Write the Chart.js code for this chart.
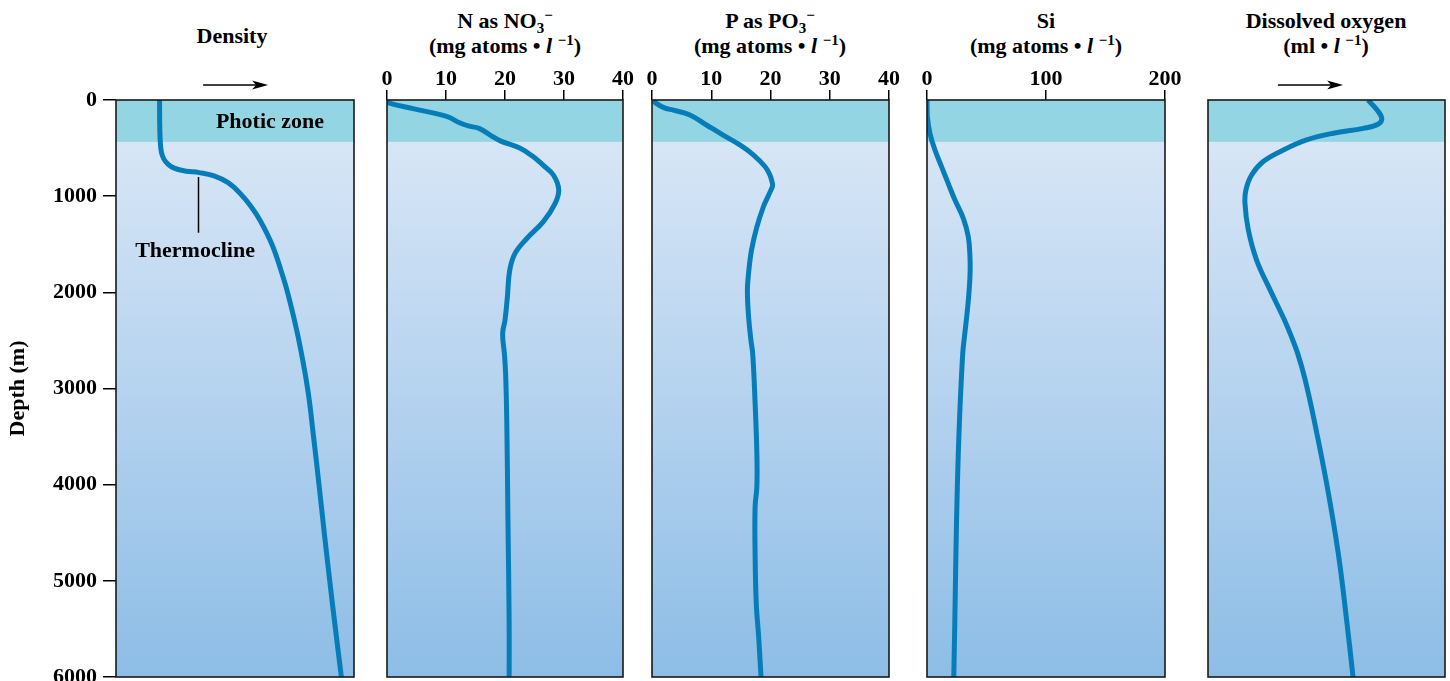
<!DOCTYPE html>
<html><head><meta charset="utf-8">
<script src="https://cdn.jsdelivr.net/npm/chart.js@4"></script>
<style>
html,body{margin:0;padding:0;background:#fff;}
body{width:1450px;height:681px;overflow:hidden;position:relative;font-family:"Liberation Serif","Times New Roman",serif;}
canvas{position:absolute;}
.t{position:absolute;text-align:center;font-weight:bold;font-size:22px;line-height:25px;color:#000;white-space:nowrap;transform:translateX(-50%);}
.t sub,.t sup{font-size:15px;line-height:0;position:relative;vertical-align:baseline;}
.t sub{top:5px;}
.t sup{top:-8px;}
</style></head><body>
<div class="t" style="left:232px;top:23px">Density</div>
<div class="t" style="left:505px;top:8px">N as NO<sub>3</sub><sup>−</sup><br>(mg atoms • <i>l</i> <sup>−1</sup>)</div>
<div class="t" style="left:770px;top:8px">P as PO<sub>3</sub><sup>−</sup><br>(mg atoms • <i>l</i> <sup>−1</sup>)</div>
<div class="t" style="left:1046px;top:8px">Si<br>(mg atoms • <i>l</i> <sup>−1</sup>)</div>
<div class="t" style="left:1326px;top:8px">Dissolved oxygen<br>(ml • <i>l</i> <sup>−1</sup>)</div>
<script>
// ---------- data ----------
const depthTicks = [0, 1000, 2000, 3000, 4000, 5000, 6000];
const nTicks = [0, 10, 20, 30, 40];
const pTicks = [0, 10, 20, 30, 40];
const siTicks = [0, 100, 200];
const photicDepth = 435;

const densityDepth = [0, 300, 500, 580, 640, 690, 720, 740, 755, 790, 860, 970, 1100, 1250, 1500, 1770, 2020, 2460, 3000, 3500, 4000, 4500, 5000, 5500, 6000];
const densityValue = [18.3, 18.4, 18.8, 19.5, 20.8, 23.0, 25.8, 29.5, 35, 41.2, 47.1, 52.1, 56.5, 60.5, 65.5, 69.3, 72.3, 76.5, 80.5, 83.0, 85.3, 87.5, 89.8, 92.2, 94.7];

const nitrateDepth = [0, 30, 90, 170, 240, 270, 295, 365, 425, 500, 590, 680, 780, 930, 1075, 1265, 1440, 1595, 1770, 2050, 2290, 2430, 2640, 2840, 3330, 4370, 5410, 6000];
const nitrateValue = [0, 0.3, 4.4, 10.1, 12.4, 13.8, 15.6, 17.5, 19.2, 22.5, 24.8, 26.5, 28.2, 29.1, 28.5, 26.5, 23.7, 21.7, 20.8, 20.4, 20.0, 19.6, 19.9, 20.1, 20.3, 20.5, 20.7, 20.7];

const phosphateDepth = [0, 30, 85, 105, 155, 260, 365, 470, 570, 694, 780, 850, 890, 940, 1000, 1110, 1320, 1560, 1800, 1980, 2250, 2500, 2640, 3150, 3680, 4020, 4230, 4720, 5240, 5580, 6000];
const phosphateValue = [0.3, 0.6, 2.2, 3.6, 6.4, 9.2, 12.0, 14.9, 17.1, 19.1, 19.9, 20.25, 20.35, 20.05, 19.6, 18.8, 17.7, 16.8, 16.3, 16.1, 16.3, 16.7, 17.0, 17.4, 17.7, 17.7, 17.4, 17.4, 17.6, 18.0, 18.4];

const silicaDepth = [0, 170, 350, 520, 695, 870, 1040, 1230, 1420, 1630, 1840, 2115, 2460, 2640, 3330, 4020, 4720, 5410, 6000];
const silicaValue = [0, 0.3, 2.5, 6.7, 12.3, 17.9, 23.5, 30.5, 34.7, 36.1, 36.1, 34.5, 31.5, 30.0, 27.3, 25.5, 24.3, 23.4, 22.5];

const oxygenDepth = [0, 100, 190, 250, 295, 345, 415, 520, 640, 780, 935, 1075, 1350, 1665, 1975, 2290, 2480, 2640, 2900, 3330, 4020, 4720, 5410, 6000];
const oxygenValue = [67.5, 71.2, 73.3, 71.9, 65.5, 52.9, 41.6, 31.8, 23.3, 18.4, 16.0, 15.6, 17.0, 20.5, 26.2, 32.3, 35.5, 37.9, 40.9, 44.8, 50.3, 55.0, 58.5, 61.2];

// ---------- styling ----------
const FONT = {family: "'Liberation Serif','Times New Roman',serif", size: 22, weight: 'bold'};
const CFONT = "bold 22px 'Liberation Serif','Times New Roman',serif";
const LINE = '#067db9';
const TOP = 60, AXIS_H = 40, AREA_H = 577, PAD_B = 30;

function pts(d, v) { return d.map((y, i) => ({x: v[i], y: y})); }

const decor = {
  id: 'decor',
  beforeDatasetsDraw(chart) {
    const {ctx, chartArea: a} = chart;
    const y = chart.scales.y;
    ctx.save();
    const g = ctx.createLinearGradient(0, a.top, 0, a.bottom);
    g.addColorStop(0, '#dde9f7');
    g.addColorStop(0.5, '#b6d3ef');
    g.addColorStop(1, '#8dbde6');
    ctx.fillStyle = g;
    ctx.fillRect(a.left, a.top, a.right - a.left, a.bottom - a.top);
    ctx.fillStyle = '#93d5e2';
    ctx.fillRect(a.left, a.top, a.right - a.left, y.getPixelForValue(photicDepth) - a.top);
    ctx.restore();
  },
  afterDatasetsDraw(chart, args, opts) {
    const {ctx, chartArea: a} = chart;
    const x = chart.scales.x, y = chart.scales.y;
    ctx.save();
    ctx.strokeStyle = '#1a1a1a';
    ctx.lineWidth = 1.6;
    ctx.strokeRect(a.left, a.top, a.right - a.left, a.bottom - a.top);
    ctx.fillStyle = '#000';
    ctx.strokeStyle = '#000';
    if (opts.arrow) {
      const w = a.right - a.left;
      const x0 = a.left + opts.arrow[0] * w, x1 = a.left + opts.arrow[1] * w, ay = a.top - 15;
      ctx.lineWidth = 1.5;
      ctx.beginPath(); ctx.moveTo(x0, ay); ctx.lineTo(x1 - 10, ay); ctx.stroke();
      ctx.beginPath(); ctx.moveTo(x1, ay); ctx.lineTo(x1 - 16, ay - 4.5); ctx.lineTo(x1 - 12, ay); ctx.lineTo(x1 - 16, ay + 4.5); ctx.closePath(); ctx.fill();
    }
    if (opts.photicLabel) {
      ctx.font = CFONT; ctx.textAlign = 'center'; ctx.textBaseline = 'alphabetic';
      const yb = y.getPixelForValue(photicDepth);
      ctx.fillText('Photic zone', x.getPixelForValue(opts.photicLabel), (a.top + yb) / 2 + 7.5);
    }
    if (opts.thermo) {
      const t = opts.thermo;
      ctx.lineWidth = 1.5;
      const lx = Math.round(x.getPixelForValue(t.x)) + 0.5;
      ctx.beginPath(); ctx.moveTo(lx, y.getPixelForValue(t.y1)); ctx.lineTo(lx, y.getPixelForValue(t.y2)); ctx.stroke();
      ctx.font = CFONT; ctx.textAlign = 'center'; ctx.textBaseline = 'alphabetic';
      ctx.fillText('Thermocline', x.getPixelForValue(t.lx), y.getPixelForValue(t.ly));
    }
    ctx.restore();
  }
};

function makePanel(p) {
  const yW = p.showY ? 116 : 0;
  const padL = p.showY ? 0 : 16, padR = 16;
  const canvasLeft = p.left - padL - yW;
  const w = p.right - canvasLeft + padR;
  const h = AXIS_H + AREA_H + PAD_B;
  const c = document.createElement('canvas');
  c.width = w; c.height = h;
  c.style.left = canvasLeft + 'px'; c.style.top = TOP + 'px';
  c.style.width = w + 'px'; c.style.height = h + 'px';
  document.body.appendChild(c);
  const xScale = {
    type: 'linear', position: 'top', min: p.xMin, max: p.xMax,
    ticks: {display: !!p.xTicks, font: FONT, color: '#000', padding: -3, maxRotation: 0, minRotation: 0, autoSkip: false},
    grid: {display: !!p.xTicks, drawOnChartArea: false, drawTicks: true, tickLength: 10, color: '#000', lineWidth: 1.5},
    border: {display: false},
    afterFit: s => { s.height = AXIS_H; }
  };
  if (p.xTicks) xScale.afterBuildTicks = s => { s.ticks = p.xTicks.map(v => ({value: v})); };
  const yScale = {
    type: 'linear', reverse: true, min: 0, max: 6000, display: !!p.showY,
    afterBuildTicks: s => { s.ticks = depthTicks.map(v => ({value: v})); },
    ticks: {font: FONT, color: '#000', padding: 6, callback: v => String(v), autoSkip: false},
    grid: {drawOnChartArea: false, drawTicks: true, tickLength: 13, color: '#000', lineWidth: 1.5},
    border: {display: false},
    title: {display: !!p.showY, text: 'Depth (m)', font: FONT, color: '#000', padding: {top: 5, bottom: 0}},
    afterFit: s => { s.width = yW; }
  };
  new Chart(c, {
    type: 'line',
    data: {datasets: [{
      data: pts(p.depth, p.values),
      borderColor: LINE, borderWidth: 5, pointRadius: 0, fill: false,
      tension: 0.4, borderCapStyle: 'butt', borderJoinStyle: 'round'
    }]},
    options: {
      responsive: false, animation: false, devicePixelRatio: 1, indexAxis: 'y', events: [],
      layout: {padding: {left: padL, right: padR, top: 0, bottom: PAD_B}},
      plugins: {legend: {display: false}, tooltip: {enabled: false},
        decor: {arrow: p.arrow, photicLabel: p.photicLabel, thermo: p.thermo}},
      scales: {x: xScale, y: yScale}
    },
    plugins: [decor]
  });
}

makePanel({left: 116, right: 354, xMin: 0, xMax: 100, showY: true, depth: densityDepth, values: densityValue,
  arrow: [0.366, 0.639], photicLabel: 64.7, thermo: {x: 34.5, y1: 800, y2: 1380, lx: 33.2, ly: 1630}});
makePanel({left: 387, right: 623, xMin: 0, xMax: 40, xTicks: nTicks, depth: nitrateDepth, values: nitrateValue});
makePanel({left: 652, right: 889, xMin: 0, xMax: 40, xTicks: pTicks, depth: phosphateDepth, values: phosphateValue});
makePanel({left: 927, right: 1165, xMin: 0, xMax: 200, xTicks: siTicks, depth: silicaDepth, values: silicaValue});
makePanel({left: 1208, right: 1445, xMin: 0, xMax: 100, depth: oxygenDepth, values: oxygenValue, arrow: [0.295, 0.57]});
</script>
</body></html>
